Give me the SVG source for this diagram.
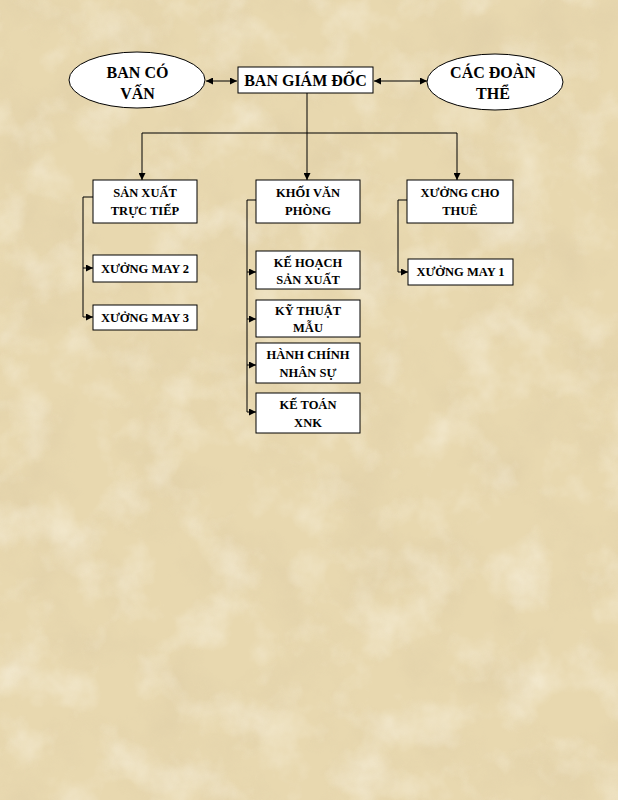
<svg xmlns="http://www.w3.org/2000/svg" width="618" height="800" viewBox="0 0 618 800">
<style>
.box{fill:#fff;stroke:#000;stroke-width:1}
.t{font-family:"Liberation Serif","Times New Roman",serif;font-weight:bold;fill:#000;text-anchor:middle}
.s{font-size:12.5px}
.b{font-size:16px}
.ln{fill:none;stroke:#000;stroke-width:1}
</style>
<defs>
<marker id="ah" viewBox="0 0 10 10" refX="10" refY="5" markerWidth="7" markerHeight="7" orient="auto-start-reverse" markerUnits="userSpaceOnUse">
<path d="M0,0 L10,5 L0,10 z" fill="#000"/>
</marker>
<filter id="tex" x="0" y="0" width="100%" height="100%">
<feTurbulence type="fractalNoise" baseFrequency="0.015" numOctaves="5" seed="7"/>
<feColorMatrix type="matrix" values="0 0 0 0 0.72  0 0 0 0 0.60  0 0 0 0 0.38  1.6 0 0 0 -0.7"/>
</filter>
<filter id="tex2" x="0" y="0" width="100%" height="100%">
<feTurbulence type="fractalNoise" baseFrequency="0.02" numOctaves="4" seed="21"/>
<feColorMatrix type="matrix" values="0 0 0 0 0.97  0 0 0 0 0.93  0 0 0 0 0.82  0 1.6 0 0 -0.75"/>
</filter>
</defs>
<rect width="618" height="800" fill="#E8D8AF"/>
<rect width="618" height="800" filter="url(#tex)" opacity="0.7"/>
<rect width="618" height="800" filter="url(#tex2)" opacity="0.7"/>

<g id="connectors">
<line class="ln" x1="206" y1="81" x2="237" y2="81" marker-start="url(#ah)" marker-end="url(#ah)"/>
<line class="ln" x1="374" y1="81" x2="427" y2="81" marker-start="url(#ah)" marker-end="url(#ah)"/>
<line class="ln" x1="307" y1="93" x2="307" y2="180" marker-end="url(#ah)"/>
<polyline class="ln" points="142,180 142,133 457,133 457,180" marker-start="url(#ah)" marker-end="url(#ah)"/>
<polyline class="ln" points="93,197 83,197 83,268 93,268" marker-end="url(#ah)"/>
<polyline class="ln" points="83,268 83,317 93,317" marker-end="url(#ah)"/>
<polyline class="ln" points="256,200 247,200 247,272 256,272" marker-end="url(#ah)"/>
<polyline class="ln" points="247,272 247,319 256,319" marker-end="url(#ah)"/>
<polyline class="ln" points="247,319 247,365 256,365" marker-end="url(#ah)"/>
<polyline class="ln" points="247,365 247,412 256,412" marker-end="url(#ah)"/>
<polyline class="ln" points="407,200 398,200 398,272 408,272" marker-end="url(#ah)"/>
</g>

<g id="ban-co-van">
<ellipse cx="137" cy="80" rx="68" ry="28" fill="#fff" stroke="#000"/>
<text class="t b" x="137.5" y="78">BAN CÓ</text>
<text class="t b" x="137.5" y="99">VẤN</text>
</g>
<g id="ban-giam-doc">
<rect class="box" x="238" y="67" width="135" height="26"/>
<text class="t b" x="305.5" y="86">BAN GIÁM ĐỐC</text>
</g>
<g id="cac-doan-the">
<ellipse cx="495" cy="82" rx="68" ry="28" fill="#fff" stroke="#000"/>
<text class="t b" x="493" y="78">CÁC ĐOÀN</text>
<text class="t b" x="493" y="99">THỂ</text>
</g>

<g id="san-xuat-truc-tiep">
<rect class="box" x="93" y="180" width="104" height="43"/>
<text class="t s" x="145" y="197">SẢN XUẤT</text>
<text class="t s" x="145" y="215">TRỰC TIẾP</text>
</g>
<g id="khoi-van-phong">
<rect class="box" x="256" y="180" width="104" height="43"/>
<text class="t s" x="308" y="197">KHỐI VĂN</text>
<text class="t s" x="308" y="215">PHÒNG</text>
</g>
<g id="xuong-cho-thue">
<rect class="box" x="407" y="180" width="106" height="43"/>
<text class="t s" x="460" y="197">XƯỞNG CHO</text>
<text class="t s" x="460" y="215">THUÊ</text>
</g>

<g id="xuong-may-2">
<rect class="box" x="93" y="255" width="104" height="27"/>
<text class="t s" x="145" y="273">XƯỞNG MAY 2</text>
</g>
<g id="xuong-may-3">
<rect class="box" x="93" y="305" width="104" height="25"/>
<text class="t s" x="145" y="322">XƯỞNG MAY 3</text>
</g>

<g id="ke-hoach-san-xuat">
<rect class="box" x="256" y="251" width="104" height="38"/>
<text class="t s" x="308" y="267">KẾ HOẠCH</text>
<text class="t s" x="308" y="284">SẢN XUẤT</text>
</g>
<g id="ky-thuat-mau">
<rect class="box" x="256" y="300" width="104" height="37"/>
<text class="t s" x="308" y="315">KỸ THUẬT</text>
<text class="t s" x="308" y="332">MẪU</text>
</g>
<g id="hanh-chinh-nhan-su">
<rect class="box" x="256" y="343" width="104" height="40"/>
<text class="t s" x="308" y="359">HÀNH CHÍNH</text>
<text class="t s" x="308" y="377">NHÂN SỰ</text>
</g>
<g id="ke-toan-xnk">
<rect class="box" x="256" y="393" width="104" height="40"/>
<text class="t s" x="308" y="409">KẾ TOÁN</text>
<text class="t s" x="308" y="427">XNK</text>
</g>

<g id="xuong-may-1">
<rect class="box" x="408" y="259" width="105" height="26"/>
<text class="t s" x="460.5" y="276">XƯỞNG MAY 1</text>
</g>
</svg>
